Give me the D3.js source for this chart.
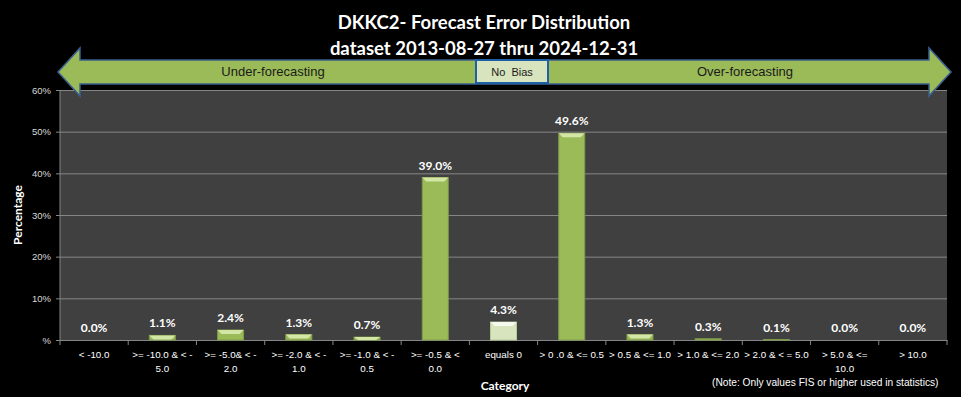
<!DOCTYPE html>
<html>
<head>
<meta charset="utf-8">
<script src="https://cdn.jsdelivr.net/npm/d3@7"></script>
<style>
  body { margin: 0; background: #000; }
  svg { display: block; font-family: Lato, "Open Sans", sans-serif; }
</style>
</head>
<body>
<div id="chart"></div>
<script>
// data
const categories = [
  "< -10.0", ">= -10.0 & < -|5.0", ">= -5.0& < -|2.0", ">= -2.0 & < -|1.0",
  ">= -1.0 & < -|0.5", ">= -0.5 & <|0.0", "equals 0", "> 0 .0 & <= 0.5",
  "> 0.5 & <= 1.0", "> 1.0 & <= 2.0", "> 2.0 & < = 5.0", "> 5.0 & <=|10.0", "> 10.0"
];
const percentages = [0.0, 1.1, 2.4, 1.3, 0.7, 39.0, 4.3, 49.6, 1.3, 0.3, 0.1, 0.0, 0.0];
const yTicks = [0, 10, 20, 30, 40, 50, 60];
const titleLines = ["DKKC2- Forecast Error Distribution", "dataset 2013-08-27  thru 2024-12-31"];

const width = 961, height = 397;
const plot = { left: 60, right: 947, top: 90, bottom: 340 };

const svg = d3.select("#chart")
  .append("svg")
  .attr("width", width)
  .attr("height", height);

svg.append("rect")
  .attr("width", width)
  .attr("height", height)
  .attr("fill", "#000");

// title
svg.selectAll(".title")
  .data(titleLines)
  .join("text")
    .attr("class", "title")
    .attr("x", 484)
    .attr("y", (d, i) => 29 + i * 26)
    .attr("text-anchor", "middle")
    .attr("fill", "#fff")
    .attr("font-size", "18.5px")
    .attr("font-weight", "bold")
    .text(d => d);

const xScale = d3.scaleBand()
  .domain(categories)
  .range([plot.left, plot.right]);

const yScale = d3.scaleLinear()
  .domain([0, 60])
  .range([plot.bottom, plot.top]);

// plot background
svg.append("rect")
  .attr("x", plot.left)
  .attr("y", plot.top)
  .attr("width", plot.right - plot.left)
  .attr("height", plot.bottom - plot.top)
  .attr("fill", "#404040");

// y axis with gridlines
const yAxis = svg.append("g")
  .attr("transform", `translate(${plot.left},0)`)
  .call(d3.axisLeft(yScale)
    .tickValues(yTicks)
    .tickSize(-(plot.right - plot.left))
    .tickFormat(d => d === 0 ? "%" : d + "%"));
yAxis.select(".domain").remove();
yAxis.selectAll(".tick line")
  .attr("x1", -4)
  .attr("stroke", "#868686");
yAxis.selectAll(".tick text")
  .attr("x", -9)
  .attr("fill", "#d9d9d9")
  .attr("font-size", "9.5px")
  .attr("font-family", "Liberation Sans Narrow, sans-serif");

svg.append("line")
  .attr("x1", plot.left).attr("x2", plot.left)
  .attr("y1", plot.top).attr("y2", plot.bottom)
  .attr("stroke", "#868686");

// x axis
const xAxis = svg.append("g")
  .attr("transform", `translate(0,${plot.bottom})`)
  .call(d3.axisBottom(xScale).tickSize(0).tickFormat(""));
xAxis.select(".domain").attr("stroke", "#868686");

svg.append("g")
  .selectAll("line")
  .data(d3.range(categories.length + 1))
  .join("line")
    .attr("x1", i => plot.left + i * xScale.step())
    .attr("x2", i => plot.left + i * xScale.step())
    .attr("y1", plot.bottom)
    .attr("y2", plot.bottom + 5)
    .attr("stroke", "#868686");

const xLabels = svg.append("g")
  .selectAll("text")
  .data(categories)
  .join("text")
    .attr("x", d => xScale(d) + xScale.bandwidth() / 2)
    .attr("y", 358)
    .attr("text-anchor", "middle")
    .attr("fill", "#fff")
    .attr("font-size", "9.8px")
    .attr("font-family", "Liberation Sans Narrow, sans-serif");
xLabels.selectAll("tspan")
  .data(d => d.split("|"))
  .join("tspan")
    .attr("x", function () { return d3.select(this.parentNode).attr("x"); })
    .attr("dy", (d, i) => i === 0 ? 0 : 14)
    .text(d => d);

// bars
const barW = 26;
const bars = svg.append("g")
  .selectAll("g")
  .data(categories.map((c, i) => ({ cat: c, value: percentages[i] })))
  .join("g")
    .attr("transform", d => `translate(${xScale(d.cat) + xScale.bandwidth() / 2 - barW / 2},0)`);

bars.append("rect")
  .attr("y", d => yScale(d.value))
  .attr("width", barW)
  .attr("height", d => plot.bottom - yScale(d.value))
  .attr("fill", d => d.cat === "equals 0" ? "#d7e4bd" : "#9bbb59")
  .attr("stroke", d => d.cat === "equals 0" ? "#b6c79a" : "#7f9a48")
  .attr("stroke-width", d => d.value > 0 ? 1 : 0);

bars.filter(d => d.value > 0.5)
  .append("path")
  .attr("d", d => {
    const t = yScale(d.value);
    const h = Math.min(4, plot.bottom - t);
    return `M0,${t} L${barW},${t} L${barW - 4},${t + h} L4,${t + h} Z`;
  })
  .attr("fill", d => d.cat === "equals 0" ? "#f6faee" : "#d4e6a6");

bars.append("text")
  .attr("x", barW / 2)
  .attr("y", d => yScale(d.value) - 8)
  .attr("text-anchor", "middle")
  .attr("fill", "#fff")
  .attr("font-size", "12px")
  .attr("font-weight", "bold")
  .text(d => d.value.toFixed(1) + "%");

// axis titles
svg.append("text")
  .attr("transform", "translate(22,215) rotate(-90)")
  .attr("text-anchor", "middle")
  .attr("fill", "#fff")
  .attr("font-size", "12px")
  .attr("font-weight", "bold")
  .text("Percentage");

svg.append("text")
  .attr("x", 505)
  .attr("y", 390)
  .attr("text-anchor", "middle")
  .attr("fill", "#fff")
  .attr("font-size", "12px")
  .attr("font-weight", "bold")
  .text("Category");

svg.append("text")
  .attr("x", 712)
  .attr("y", 386)
  .attr("fill", "#fff")
  .attr("font-size", "10.2px")
  .attr("font-family", "Liberation Sans Narrow, sans-serif")
  .text("(Note: Only values FIS or higher used in statistics)");

// bias arrow
const arrow = { x0: 58, x1: 951, cy: 72, shaft: 12, head: 24, headLen: 22 };
svg.append("path")
  .attr("d", [
    [arrow.x0, arrow.cy],
    [arrow.x0 + arrow.headLen, arrow.cy - arrow.head],
    [arrow.x0 + arrow.headLen, arrow.cy - arrow.shaft],
    [arrow.x1 - arrow.headLen, arrow.cy - arrow.shaft],
    [arrow.x1 - arrow.headLen, arrow.cy - arrow.head],
    [arrow.x1, arrow.cy],
    [arrow.x1 - arrow.headLen, arrow.cy + arrow.head],
    [arrow.x1 - arrow.headLen, arrow.cy + arrow.shaft],
    [arrow.x0 + arrow.headLen, arrow.cy + arrow.shaft],
    [arrow.x0 + arrow.headLen, arrow.cy + arrow.head]
  ].map((p, i) => (i ? "L" : "M") + p[0] + "," + p[1]).join("") + "Z")
  .attr("fill", "#9bbb59")
  .attr("stroke", "#3a5f8f")
  .attr("stroke-width", 1.5);

svg.append("rect")
  .attr("x", 476)
  .attr("y", 60)
  .attr("width", 72)
  .attr("height", 23)
  .attr("fill", "#d7e4bd")
  .attr("stroke", "#1f5fa8")
  .attr("stroke-width", 2);

svg.selectAll(".bias")
  .data([["Under-forecasting", 273], ["No  Bias", 512], ["Over-forecasting", 745]])
  .join("text")
    .attr("class", "bias")
    .attr("x", d => d[1])
    .attr("y", 76)
    .attr("text-anchor", "middle")
    .attr("fill", "#1a1a1a")
    .attr("font-size", d => d[0] === "No  Bias" ? "11px" : "13px")
    .attr("font-family", "Liberation Sans Narrow, sans-serif")
    .style("white-space", "pre")
    .text(d => d[0]);
</script>
</body>
</html>
